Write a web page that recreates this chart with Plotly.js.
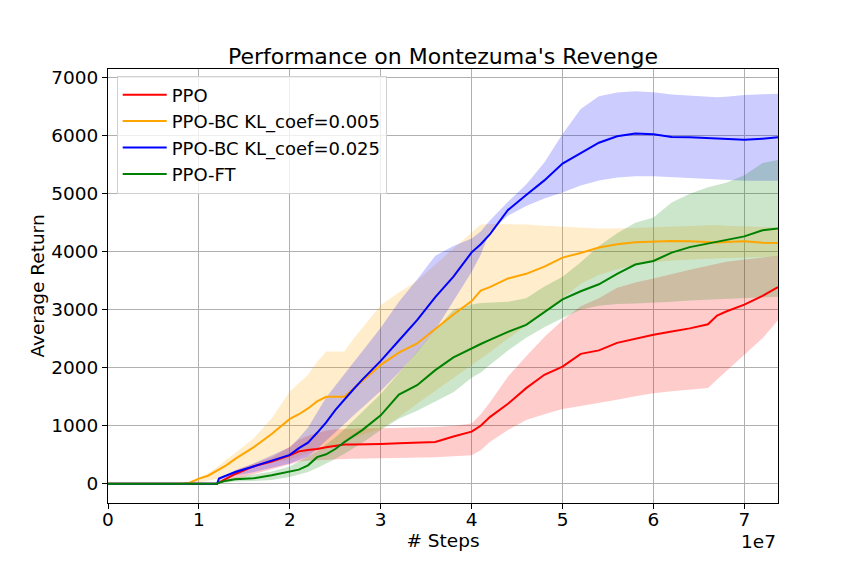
<!DOCTYPE html>
<html>
<head>
<meta charset="utf-8">
<script src="https://cdn.plot.ly/plotly-3.0.1.min.js"></script>
<style>
  html, body { margin: 0; padding: 0; background: #fff; }
  #chart { width: 864px; height: 576px; }
</style>
</head>
<body>
<div id="chart"></div>
<script>
// steps in millions
var steps = [0, 8, 9, 10, 11, 12, 12.2, 13, 14, 16, 18, 20, 21, 22, 23, 24, 25, 26, 27, 28,
  30, 32, 34, 36, 38, 40, 41, 42, 44, 46, 48, 50, 52, 54, 56, 58, 60, 62, 64, 66, 67, 68, 70, 72, 73.7];

var ppoMean = [0, 0, 0, 0, 0, 0, 20, 90, 170, 300, 385, 490, 560, 585, 600, 630, 660, 680, 680, 680,
  688, 700, 710, 720, 815, 900, 1000, 1150, 1380, 1650, 1880, 2020, 2240, 2300, 2430, 2500, 2570, 2625, 2680, 2750, 2900, 2970, 3090, 3240, 3390];
var ppoHi = [0, 0, 0, 0, 0, 0, 30, 110, 230, 350, 460, 640, 760, 830, 880, 920, 940, 950, 955, 958,
  960, 965, 972, 978, 1000, 1040, 1200, 1400, 1850, 2200, 2530, 2820, 3060, 3200, 3380, 3470, 3540, 3620, 3690, 3760, 3800, 3830, 3865, 3900, 3930];
var ppoLo = [0, 0, 0, 0, 0, 0, 10, 40, 80, 160, 250, 340, 385, 400, 410, 418, 425, 430, 433, 435,
  438, 445, 452, 460, 475, 495, 580, 720, 930, 1100, 1200, 1290, 1340, 1390, 1450, 1510, 1560, 1595, 1620, 1650, 1800, 1940, 2230, 2510, 2820];

var bc005Mean = [0, 0, 20, 90, 140, 230, 250, 320, 430, 630, 860, 1120, 1200, 1300, 1420, 1500, 1500, 1500, 1640, 1780,
  2050, 2260, 2420, 2670, 2920, 3150, 3330, 3390, 3540, 3620, 3745, 3900, 3980, 4075, 4130, 4165, 4180, 4185, 4180, 4165, 4160, 4170, 4180, 4155, 4150];
var bc005Hi = [0, 0, 40, 110, 180, 290, 310, 420, 530, 780, 1130, 1590, 1740, 1880, 2100, 2281, 2281, 2281, 2500, 2700,
  3080, 3300, 3500, 3780, 4060, 4340, 4470, 4480, 4480, 4470, 4450, 4435, 4420, 4400, 4400, 4410, 4420, 4440, 4450, 4460, 4460, 4450, 4440, 4430, 4420];
var bc005Lo = [0, 0, 0, 20, 50, 90, 100, 150, 210, 300, 360, 420, 470, 520, 570, 620, 680, 740, 800, 850,
  950, 1150, 1380, 1600, 1820, 2050, 2150, 2270, 2500, 2720, 2950, 3200, 3450, 3600, 3700, 3770, 3820, 3850, 3870, 3880, 3885, 3890, 3900, 3910, 3920];

var bc025Mean = [0, 0, 0, 0, 0, 0, 90, 140, 205, 300, 395, 500, 615, 710, 880, 1060, 1270, 1460, 1630, 1800,
  2120, 2470, 2820, 3220, 3570, 3990, 4130, 4300, 4720, 4980, 5230, 5520, 5700, 5880, 5990, 6040, 6025, 5980, 5972, 5960, 5945, 5942, 5930, 5950, 5972];
var bc025Hi = [0, 0, 0, 0, 0, 0, 100, 160, 235, 350, 490, 630, 790, 970, 1230, 1490, 1690, 1890, 2090, 2290,
  2690, 3140, 3520, 3930, 4100, 4230, 4350, 4540, 4860, 5160, 5540, 6030, 6460, 6680, 6745, 6765, 6750, 6710, 6690, 6670, 6665, 6670, 6700, 6715, 6725];
var bc025Lo = [0, 0, 0, 0, 0, 0, 40, 90, 140, 200, 270, 350, 410, 470, 600, 740, 890, 1030, 1180, 1320,
  1600, 1920, 2270, 2650, 3160, 3650, 3950, 4350, 4620, 4790, 4920, 5020, 5140, 5230, 5280, 5300, 5300, 5285, 5265, 5245, 5240, 5235, 5225, 5222, 5222];

var ftMean = [0, 0, 0, 0, 0, 0, 20, 55, 80, 95, 150, 210, 245, 320, 460, 510, 600, 720, 820, 930,
  1180, 1540, 1700, 1960, 2180, 2340, 2410, 2480, 2620, 2740, 2960, 3180, 3320, 3440, 3620, 3780, 3842, 3985, 4080, 4140, 4165, 4200, 4265, 4370, 4400];
var ftHi = [0, 0, 0, 0, 0, 0, 30, 70, 115, 160, 215, 300, 380, 470, 560, 680, 800, 940, 1090, 1240,
  1550, 1910, 2280, 2650, 3000, 3090, 3115, 3125, 3140, 3200, 3400, 3570, 3820, 4100, 4320, 4500, 4590, 4850, 5000, 5110, 5150, 5190, 5320, 5530, 5580];
var ftLo = [0, 0, 0, 0, 0, 0, 10, 25, 40, 50, 65, 120, 160, 205, 275, 350, 430, 520, 610, 710,
  930, 1120, 1260, 1420, 1580, 1830, 1920, 2050, 2300, 2520, 2700, 2860, 3000, 3070, 3100, 3110, 3120, 3140, 3160, 3175, 3180, 3190, 3200, 3215, 3225];

var seriesNames = ['PPO', 'PPO-BC KL_coef=0.005', 'PPO-BC KL_coef=0.025', 'PPO-FT'];
var seriesColors = ['#ff0000', '#ffa500', '#0000ff', '#008000'];
var bandColors = ['rgba(255,0,0,0.2)', 'rgba(255,165,0,0.2)', 'rgba(0,0,255,0.2)', 'rgba(0,128,0,0.2)'];
var means = [ppoMean, bc005Mean, bc025Mean, ftMean];
var highs = [ppoHi, bc005Hi, bc025Hi, ftHi];
var lows = [ppoLo, bc005Lo, bc025Lo, ftLo];

var xs = steps.map(function (s) { return s * 1e6; });
var traces = [];

// shaded bands first
for (var i = 0; i < seriesNames.length; i++) {
  traces.push({
    x: xs, y: lows[i], mode: 'lines', line: {width: 0, color: bandColors[i]},
    showlegend: false, hoverinfo: 'skip'
  });
  traces.push({
    x: xs, y: highs[i], mode: 'lines', line: {width: 0, color: bandColors[i]},
    fill: 'tonexty', fillcolor: bandColors[i], showlegend: false, hoverinfo: 'skip'
  });
}

// mean lines on top
for (var j = 0; j < seriesNames.length; j++) {
  traces.push({
    x: xs, y: means[j], name: seriesNames[j], mode: 'lines',
    line: {color: seriesColors[j], width: 2}
  });
}

var font = {family: 'DejaVu Sans', size: 18.5, color: '#000'};

var layout = {
  width: 864,
  height: 576,
  margin: {l: 108, r: 86, t: 69, b: 73},
  paper_bgcolor: '#fff',
  plot_bgcolor: '#fff',
  font: font,
  showlegend: true,
  title: {
    text: "Performance on Montezuma's Revenge",
    font: {family: 'DejaVu Sans', size: 22, color: '#000'},
    x: 0.5, xref: 'paper', xanchor: 'center',
    y: 1 - 56 / 576, yanchor: 'middle'
  },
  xaxis: {
    range: [0, 73.7e6],
    tickvals: [0, 1e7, 2e7, 3e7, 4e7, 5e7, 6e7, 7e7],
    ticktext: ['0', '1', '2', '3', '4', '5', '6', '7'],
    ticks: 'outside', ticklen: 5, tickwidth: 1, tickcolor: '#000',
    ticklabelstandoff: -5,
    showline: true, linecolor: '#000', linewidth: 1, mirror: true,
    showgrid: true, gridcolor: '#b0b0b0', gridwidth: 1,
    zeroline: false,
    tickfont: font,
    title: {text: '# Steps', font: font, standoff: 4}
  },
  yaxis: {
    range: [-330, 7150],
    tickvals: [0, 1000, 2000, 3000, 4000, 5000, 6000, 7000],
    tickformat: 'd',
    ticks: 'outside', ticklen: 5, tickwidth: 1, tickcolor: '#000',
    showline: true, linecolor: '#000', linewidth: 1, mirror: true,
    showgrid: true, gridcolor: '#b0b0b0', gridwidth: 1,
    zeroline: false,
    tickfont: font,
    title: {text: 'Average Return', font: font, standoff: 1}
  },
  legend: {
    x: 0.013, y: 0.985, xanchor: 'left', yanchor: 'top',
    traceorder: 'normal',
    itemwidth: 44,
    bgcolor: 'rgba(255,255,255,0.8)',
    bordercolor: '#d0d0d0', borderwidth: 1,
    font: {family: 'DejaVu Sans', size: 18, color: '#000'}
  },
  annotations: [{
    text: '1e7', xref: 'paper', yref: 'paper',
    x: 1, y: -0.088, xanchor: 'right', yanchor: 'middle',
    showarrow: false, font: font
  }]
};

Plotly.newPlot('chart', traces, layout, {staticPlot: true});
</script>
</body>
</html>
